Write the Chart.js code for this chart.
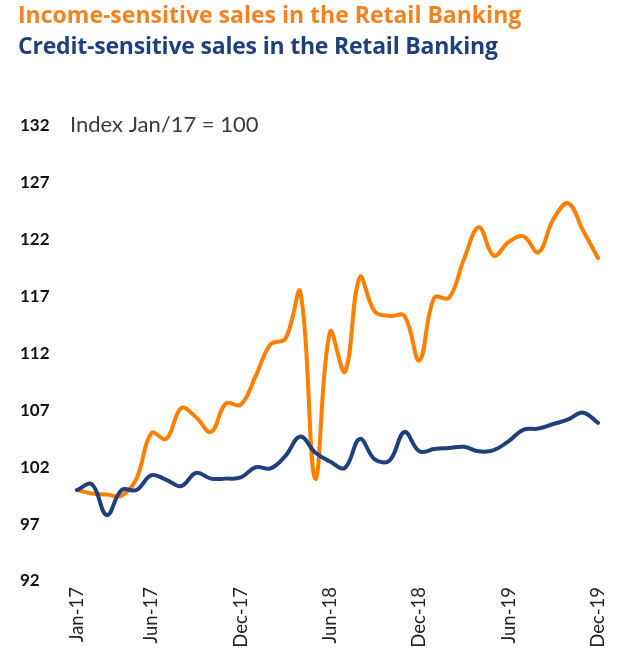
<!DOCTYPE html>
<html>
<head>
<meta charset="utf-8">
<script src="https://cdn.jsdelivr.net/npm/chart.js@4.4.1/dist/chart.umd.min.js"></script>
<style>
  html, body { margin: 0; padding: 0; background: #fff; }
  #wrap { position: relative; width: 629px; height: 657px; }
  #chart { position: absolute; left: 0; top: 0; }
  .title { position: absolute; left: 18px; font-family: "Open Sans", sans-serif; font-weight: bold; font-size: 23px; white-space: nowrap; }
  #t1 { top: -2px; color: #f58220; letter-spacing: 0px; }
  #t2 { top: 29px; color: #1f3f7d; letter-spacing: -0.2px; }
</style>
</head>
<body>
<div id="wrap">
  <canvas id="chart" width="629" height="657"></canvas>
  <div class="title" id="t1">Income-sensitive sales in the Retail Banking</div>
  <div class="title" id="t2">Credit-sensitive sales in the Retail Banking</div>
</div>
<script>
// Monthly index values, Jan/17 = 100
const months = [
    'Jan-17', 'Feb-17', 'Mar-17', 'Apr-17', 'May-17', 'Jun-17', 'Jul-17', 'Aug-17', 'Sep-17', 'Oct-17', 'Nov-17', 'Dec-17',
    'Jan-18', 'Feb-18', 'Mar-18', 'Apr-18', 'May-18', 'Jun-18', 'Jul-18', 'Aug-18', 'Sep-18', 'Oct-18', 'Nov-18', 'Dec-18',
    'Jan-19', 'Feb-19', 'Mar-19', 'Apr-19', 'May-19', 'Jun-19', 'Jul-19', 'Aug-19', 'Sep-19', 'Oct-19', 'Nov-19', 'Dec-19'
];
const shownMonths = ['Jan-17', 'Jun-17', 'Dec-17', 'Jun-18', 'Dec-18', 'Jun-19', 'Dec-19'];

const incomeSensitive = [
    100, 99.7, 99.6, 99.5, 101.0, 105.0, 104.5, 107.2, 106.4, 105.1, 107.6, 107.5,
    110.0, 112.8, 113.3, 117.4, 101.0, 113.9, 110.4, 118.7, 115.7, 115.3, 115.3, 111.4,
    116.9, 116.9, 120.3, 123.1, 120.6, 121.8, 122.3, 120.9, 123.8, 125.2, 122.8, 120.4
];
const creditSensitive = [
    100, 100.5, 97.8, 100, 100, 101.3, 100.9, 100.35, 101.5, 101, 101, 101.1,
    102, 101.9, 103, 104.7, 103.3, 102.5, 101.95, 104.5, 102.7, 102.6, 105.1, 103.4,
    103.6, 103.7, 103.8, 103.4, 103.5, 104.3, 105.3, 105.4, 105.8, 106.2, 106.8, 105.9
];

const yMin = 92, yMax = 132, yStep = 5;
const indexNote = 'Index Jan/17 = 100';

// writes the index note next to the top tick
const notePlugin = {
    id: 'indexNote',
    afterDraw(chart) {
        const ctx = chart.ctx;
        const y = chart.scales.y.getPixelForValue(yMax);
        ctx.save();
        ctx.font = '22px Lato, sans-serif';
        ctx.fillStyle = '#3a3a3a';
        ctx.textBaseline = 'middle';
        ctx.textAlign = 'left';
        ctx.fillText(indexNote, 70, y - 1);
        ctx.restore();
    }
};

new Chart(document.getElementById('chart'), {
    type: 'line',
    data: {
        labels: months,
        datasets: [
            {
                label: 'Credit-sensitive',
                data: creditSensitive,
                borderColor: '#1f3f7d',
                borderWidth: 4,
                tension: 0.4,
                pointRadius: 0,
                borderCapStyle: 'round',
                order: 0
            },
            {
                label: 'Income-sensitive',
                data: incomeSensitive,
                borderColor: '#ff7f00',
                borderWidth: 4,
                tension: 0.4,
                pointRadius: 0,
                borderCapStyle: 'round',
                order: 1
            }
        ]
    },
    options: {
        responsive: false,
        animation: false,
        layout: { padding: { left: 20, right: 31, top: 126, bottom: 9 } },
        plugins: { legend: { display: false }, tooltip: { enabled: false } },
        scales: {
            x: {
                offset: false,
                grid: { display: false, drawTicks: false },
                border: { display: false },
                afterFit(scale) { scale.height = 67; },
                ticks: {
                    autoSkip: false,
                    minRotation: 90,
                    maxRotation: 90,
                    padding: 6,
                    color: '#222',
                    font: { family: 'Lato, sans-serif', size: 18.5 },
                    callback(value) {
                        const m = months[value];
                        return shownMonths.includes(m) ? m : '';
                    }
                }
            },
            y: {
                min: yMin,
                max: yMax,
                grid: { display: false, drawTicks: false },
                border: { display: false },
                afterFit(scale) { scale.width = 57; },
                ticks: {
                    stepSize: yStep,
                    crossAlign: 'far',
                    color: '#111',
                    font: { family: 'Lato, sans-serif', size: 17, weight: 'bold' }
                }
            }
        }
    },
    plugins: [notePlugin]
});
</script>
</body>
</html>
